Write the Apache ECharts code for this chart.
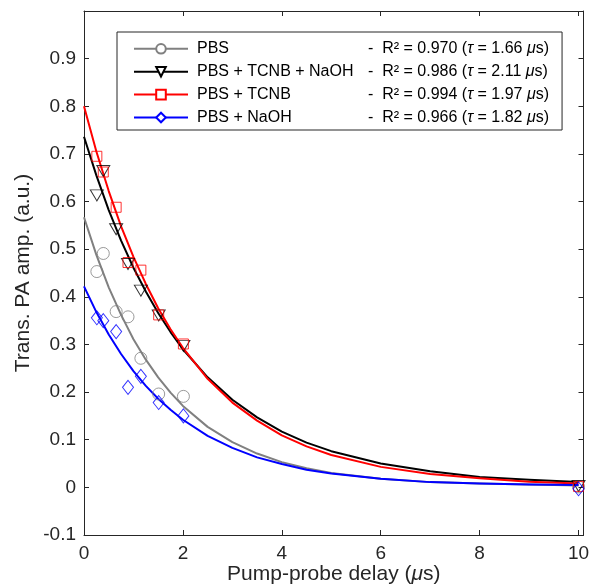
<!DOCTYPE html>
<html>
<head>
<meta charset="utf-8">
<script src="https://cdn.jsdelivr.net/npm/echarts@6/dist/echarts.min.js"></script>
<style>
html,body{margin:0;padding:0;background:#fff;}
#chart{width:591px;height:586px;}
</style>
</head>
<body>
<div id="chart"></div>
<script>
// ---- data ----
const seriesNames = ['PBS', 'PBS + TCNB + NaOH', 'PBS + TCNB', 'PBS + NaOH'];
const r2Values = ['0.970', '0.986', '0.994', '0.966'];
const tauValues = ['1.66', '2.11', '1.97', '1.82'];

// measured points
const pointX = [0.26, 0.39, 0.65, 0.89, 1.15, 1.51, 2.01, 10];
const ptsPBS = [0.453, 0.491, 0.369, 0.358, 0.271, 0.196, 0.191, 0.001];
const ptsTcnbNaoh = [0.613, 0.664, 0.542, 0.469, 0.413, 0.361, 0.297, 0.003];
const ptsTcnb = [0.695, 0.662, 0.588, 0.472, 0.456, 0.362, 0.301, 0.002];
const ptsNaoh = [0.356, 0.350, 0.327, 0.210, 0.233, 0.178, 0.150, -0.003];

// fitted curves
const fitX = [0, 0.25, 0.5, 0.75, 1, 1.25, 1.5, 1.75, 2, 2.5, 3, 3.5, 4, 4.5, 5, 6, 7, 8, 9, 10];
const fitPBS = [0.567, 0.488, 0.420, 0.362, 0.311, 0.268, 0.231, 0.199, 0.171, 0.127, 0.095, 0.071, 0.053, 0.040, 0.030, 0.018, 0.011, 0.008, 0.006, 0.004];
const fitTcnbNaoh = [0.736, 0.655, 0.582, 0.518, 0.461, 0.411, 0.366, 0.326, 0.290, 0.231, 0.184, 0.147, 0.117, 0.094, 0.076, 0.050, 0.034, 0.022, 0.016, 0.011];
const fitTcnb = [0.800, 0.705, 0.622, 0.548, 0.484, 0.427, 0.376, 0.332, 0.293, 0.228, 0.178, 0.140, 0.109, 0.086, 0.068, 0.043, 0.028, 0.019, 0.012, 0.008];
const fitNaoh = [0.422, 0.368, 0.321, 0.280, 0.244, 0.213, 0.186, 0.163, 0.142, 0.108, 0.083, 0.063, 0.049, 0.037, 0.029, 0.018, 0.011, 0.008, 0.006, 0.005];

// tick labels
const xTickLabels = ['0', '2', '4', '6', '8', '10'];
const yTickLabels = ['-0.1', '0', '0.1', '0.2', '0.3', '0.4', '0.5', '0.6', '0.7', '0.8', '0.9'];

// ---- styling ----
const FONT = 'Liberation Sans';
const AX = '#262626';
const colors = ['#808080', '#000000', '#ff0000', '#0000ff'];
const symbols = ['circle', 'triangle', 'rect', 'diamond'];
const symbolRot = [0, 180, 0, 0];
const symbolSizes = [12, [13, 11], 10, [11, 14]];
const pointSets = [ptsPBS, ptsTcnbNaoh, ptsTcnb, ptsNaoh];
const fitSets = [fitPBS, fitTcnbNaoh, fitTcnb, fitNaoh];

const zip = (xs, ys) => xs.map((x, i) => [x, ys[i]]);

const series = [];
seriesNames.forEach((name, k) => {
  series.push({
    name: name,
    type: 'line',
    data: zip(fitX, fitSets[k]),
    smooth: false,
    showSymbol: false,
    symbol: 'empty' + symbols[k].charAt(0).toUpperCase() + symbols[k].slice(1),
    symbolRotate: symbolRot[k],
    symbolSize: 9,
    lineStyle: { color: colors[k], width: 2, join: 'round' },
    itemStyle: { color: colors[k] },
    silent: true,
    z: 2
  });
});
seriesNames.forEach((name, k) => {
  series.push({
    name: name + ' data',
    type: 'scatter',
    data: zip(pointX, pointSets[k]),
    symbol: symbols[k],
    symbolRotate: symbolRot[k],
    symbolSize: symbolSizes[k],
    itemStyle: { color: 'rgba(0,0,0,0)', borderColor: colors[k], borderWidth: 1 },
    silent: true,
    z: 3
  });
});

const xLabelMap = {};
xTickLabels.forEach(s => xLabelMap[Number(s)] = s);
const yLabelMap = {};
yTickLabels.forEach(s => yLabelMap[Number(s).toFixed(1)] = s);

const mainTok = { fontFamily: FONT, fontSize: 16, color: '#000', lineHeight: 16 };

const chart = echarts.init(document.getElementById('chart'), null, { renderer: 'canvas' });
chart.setOption({
  animation: false,
  backgroundColor: '#ffffff',
  textStyle: { fontFamily: FONT },
  grid: { left: 84, right: 7.5, top: 11, bottom: 51, containLabel: false, outerBoundsMode: 'none' },
  xAxis: [{
    type: 'value', min: 0, max: 10.1, interval: 2,
    name: 'Pump-probe delay ({i|μ}s)',
    nameLocation: 'middle', nameGap: 29, nameMoveOverlap: false,
    nameTextStyle: { fontFamily: FONT, fontSize: 21, color: AX,
      rich: { i: { fontFamily: FONT, fontSize: 21, fontStyle: 'italic', color: AX } } },
    axisLine: { show: true, onZero: false, lineStyle: { color: AX, width: 1 } },
    axisTick: { show: true, inside: true, length: 5, lineStyle: { color: AX } },
    axisLabel: { fontFamily: FONT, fontSize: 19, color: AX, margin: 9, showMaxLabel: false,
      formatter: v => (xLabelMap[v] !== undefined ? xLabelMap[v] : '') },
    splitLine: { show: false }
  }, {
    type: 'value', min: 0, max: 10.1, interval: 2, position: 'top',
    axisLine: { show: true, onZero: false, lineStyle: { color: AX, width: 1 } },
    axisTick: { show: true, inside: true, length: 5, lineStyle: { color: AX } },
    axisLabel: { show: false },
    splitLine: { show: false }
  }],
  yAxis: [{
    type: 'value', min: -0.1, max: 1.0, interval: 0.1,
    name: 'Trans. PA amp. (a.u.)',
    nameLocation: 'middle', nameGap: 50, nameMoveOverlap: false,
    nameTextStyle: { fontFamily: FONT, fontSize: 21, color: AX },
    axisLine: { show: true, onZero: false, lineStyle: { color: AX, width: 1 } },
    axisTick: { show: true, inside: true, length: 5, lineStyle: { color: AX } },
    axisLabel: { fontFamily: FONT, fontSize: 19, color: AX, margin: 8,
      formatter: v => { const k = Number(v).toFixed(1); return yLabelMap[k] !== undefined ? yLabelMap[k] : ''; } },
    splitLine: { show: false }
  }, {
    type: 'value', min: -0.1, max: 1.0, interval: 0.1, position: 'right',
    axisLine: { show: true, onZero: false, lineStyle: { color: AX, width: 1 } },
    axisTick: { show: true, inside: true, length: 5, lineStyle: { color: AX } },
    axisLabel: { show: false },
    splitLine: { show: false }
  }],
  legend: {
    show: true,
    data: seriesNames,
    orient: 'vertical',
    left: 117, top: 32,
    padding: [8.8, 13, 4.5, 16],
    itemWidth: 54, itemHeight: 12, itemGap: 6.9,
    backgroundColor: '#ffffff',
    borderColor: AX, borderWidth: 1,
    selectedMode: false,
    symbolRotate: 'inherit',
    textStyle: {
      fontFamily: FONT, fontSize: 16, color: '#000', padding: [0, 0, 0, 4], lineHeight: 16,
      rich: {
        n: Object.assign({}, mainTok, { width: 171 }),
        t: Object.assign({}, mainTok),
        i: Object.assign({}, mainTok, { fontStyle: 'italic' })
      }
    },
    formatter: function (name) {
      const k = seriesNames.indexOf(name);
      return '{n|' + name + '}{t|-  R² = ' + r2Values[k] + ' (}{i|τ}{t| = ' + tauValues[k] + ' }{i|μ}{t|s)}';
    }
  },
  series: series
});
</script>
</body>
</html>
